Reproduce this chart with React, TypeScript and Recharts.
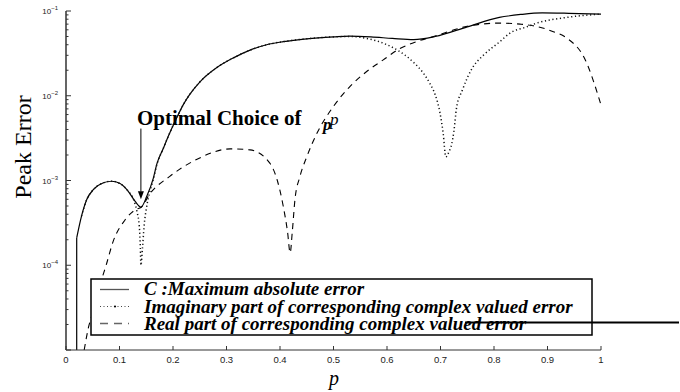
import React from 'react';
import { LineChart, Line, XAxis, YAxis, ReferenceLine, ReferenceDot } from 'recharts';

// [p, error] samples for each curve
const maxAbsErr: [number, number][] = [
  [0.02, 1e-5], [0.02, 2.1e-4], [0.029, 3.8e-4], [0.039, 6.0e-4], [0.051, 7.8e-4],
  [0.07, 9.4e-4], [0.085, 9.8e-4], [0.101, 9.2e-4], [0.116, 7.5e-4], [0.129, 5.7e-4],
  [0.14, 4.85e-4], [0.151, 6.5e-4], [0.163, 1.05e-3], [0.17, 1.58e-3], [0.182, 2.4e-3],
  [0.191, 3.3e-3], [0.207, 5.5e-3], [0.219, 7.8e-3], [0.232, 1.05e-2], [0.25, 1.45e-2],
  [0.282, 2.15e-2], [0.313, 2.8e-2], [0.344, 3.45e-2], [0.375, 4.0e-2], [0.406, 4.35e-2],
  [0.45, 4.7e-2], [0.5, 4.95e-2], [0.53, 5.05e-2], [0.57, 4.95e-2], [0.61, 4.75e-2],
  [0.65, 4.6e-2], [0.69, 5.0e-2], [0.75, 6.5e-2], [0.81, 8.4e-2], [0.85, 9.1e-2],
  [0.89, 9.5e-2], [0.94, 9.4e-2], [1.0, 9.2e-2],
];

const imagErr: [number, number][] = [
  [0.029, 3.8e-4], [0.039, 6.0e-4], [0.051, 7.8e-4], [0.07, 9.4e-4], [0.085, 9.8e-4],
  [0.101, 9.2e-4], [0.116, 7.5e-4], [0.127, 5.8e-4], [0.133, 4.2e-4], [0.137, 2.9e-4],
  [0.139, 1.6e-4], [0.14, 1.0e-4], [0.143, 1.6e-4], [0.146, 2.9e-4], [0.151, 5.0e-4],
  [0.157, 7.5e-4], [0.163, 1.02e-3], [0.17, 1.55e-3], [0.182, 2.4e-3], [0.191, 3.3e-3],
  [0.207, 5.5e-3], [0.219, 7.8e-3], [0.232, 1.05e-2], [0.25, 1.45e-2], [0.282, 2.15e-2],
  [0.313, 2.8e-2], [0.344, 3.45e-2], [0.375, 4.0e-2], [0.406, 4.35e-2], [0.45, 4.7e-2],
  [0.5, 4.95e-2], [0.53, 5.0e-2], [0.562, 4.75e-2], [0.6, 4.0e-2], [0.618, 3.5e-2],
  [0.649, 2.5e-2], [0.668, 1.85e-2], [0.68, 1.4e-2], [0.69, 1.03e-2], [0.699, 6.3e-3],
  [0.705, 3.6e-3], [0.71, 1.9e-3], [0.716, 2.2e-3], [0.721, 2.7e-3], [0.725, 3.8e-3],
  [0.73, 7.2e-3], [0.741, 1.17e-2], [0.759, 2.1e-2], [0.78, 3.0e-2], [0.811, 4.35e-2],
  [0.83, 5.5e-2], [0.861, 6.5e-2], [0.88, 7.2e-2], [0.936, 8.4e-2], [1.0, 9.2e-2],
];

const realErr: [number, number][] = [
  [0.034, 1e-5], [0.042, 1.85e-5], [0.051, 2.9e-5], [0.064, 6.0e-5], [0.075, 1.0e-4],
  [0.088, 1.9e-4], [0.11, 3.4e-4], [0.132, 4.6e-4], [0.14, 4.8e-4], [0.157, 7.0e-4],
  [0.194, 1.12e-3], [0.244, 1.77e-3], [0.307, 2.36e-3], [0.344, 2.3e-3], [0.381, 1.6e-3],
  [0.395, 1.0e-3], [0.406, 5.0e-4], [0.414, 2.5e-4], [0.419, 1.4e-4], [0.423, 2.5e-4],
  [0.428, 6.0e-4], [0.437, 1.1e-3], [0.45, 1.9e-3], [0.469, 3.6e-3], [0.5, 7.5e-3],
  [0.531, 1.29e-2], [0.562, 1.93e-2], [0.593, 2.65e-2], [0.624, 3.6e-2], [0.655, 4.35e-2],
  [0.687, 5.0e-2], [0.75, 6.6e-2], [0.811, 7.2e-2], [0.849, 7.0e-2], [0.873, 6.7e-2],
  [0.911, 5.7e-2], [0.936, 4.8e-2], [0.97, 2.7e-2], [1.0, 7.8e-3],
];

const xTicks = [0, 0.1, 0.2, 0.3, 0.4, 0.5, 0.6, 0.7, 0.8, 0.9, 1];
const decades = [1e-5, 1e-4, 1e-3, 1e-2, 1e-1];
const decadeLabels = ['', '\u22124', '\u22123', '\u22122', '\u22121'];
const minorSteps = [2, 3, 4, 5, 6, 7, 8, 9];

const legendItems = [
  'C :Maximum absolute error',
  'Imaginary part of corresponding complex valued error',
  'Real part of corresponding complex valued error',
];

// optimal p (minimum of the max error curve)
const pOpt = 0.14;

const yTicks = [
  ...decades,
  ...decades.slice(0, -1).flatMap((d) => minorSteps.map((m) => d * m)),
].sort((a, b) => a - b);

const toRows = (arr: [number, number][]) => arr.map(([p, v]) => ({ p, v }));

const SERIF = '"Liberation Serif", "Times New Roman", serif';
const SANS = '"Liberation Sans", Arial, sans-serif';

const YTick = (props: any) => {
  const { x, y, payload } = props;
  const i = decades.indexOf(payload.value);
  const major = i >= 0;
  return (
    <g>
      <line x1={x} x2={x + (major ? 5 : 2.5)} y1={y} y2={y} stroke="#333" strokeWidth={1} />
      {major && decadeLabels[i] && (
        <text x={x - 8} y={y + 3} textAnchor="end" fontFamily={SANS} fontSize={8} fill="#222">
          10
          <tspan dy={-4} fontSize={6}>
            {decadeLabels[i]}
          </tspan>
        </text>
      )}
    </g>
  );
};

const XTick = (props: any) => {
  const { x, y, payload } = props;
  return (
    <g>
      <line x1={x} x2={x} y1={y} y2={y - 4} stroke="#333" strokeWidth={1} />
      <text x={x} y={y + 12.5} textAnchor="middle" fontFamily={SANS} fontSize={9.5} fill="#222">
        {payload.value}
      </text>
    </g>
  );
};

const ArrowHead = (props: any) => {
  const { cx, cy } = props;
  return <path d={`M${cx - 3},${cy - 8}L${cx + 3},${cy - 8}L${cx},${cy}Z`} fill="#000" />;
};

const LegendSample = ({ kind, y }: { kind: number; y: number }) => {
  if (kind === 0) return <line x1={100} x2={129} y1={y} y2={y} stroke="#555" strokeWidth={1.3} />;
  if (kind === 1)
    return (
      <g>
        <line x1={100} x2={129} y1={y} y2={y} stroke="#444" strokeWidth={1} strokeDasharray="1 2.5" />
        <circle cx={115} cy={y} r={1.1} fill="#000" />
      </g>
    );
  return <line x1={100} x2={129} y1={y} y2={y} stroke="#666" strokeWidth={1.3} strokeDasharray="8 6" />;
};

export default function App() {
  return (
    <div style={{ position: 'absolute', left: 0, top: 0, width: 680, height: 392, background: '#fff' }}>
      <LineChart width={680} height={392} margin={{ top: 11, right: 79, bottom: 0, left: 0 }}>
        <XAxis
          type="number"
          dataKey="p"
          domain={[0, 1]}
          ticks={xTicks}
          interval={0}
          tickSize={0}
          tickMargin={0}
          tickLine={false}
          height={42}
          axisLine={{ stroke: '#333', strokeWidth: 1 }}
          tick={<XTick />}
        />
        <YAxis
          type="number"
          scale="log"
          domain={[1e-5, 1e-1]}
          allowDataOverflow
          ticks={yTicks}
          interval={0}
          tickSize={0}
          tickMargin={0}
          tickLine={false}
          width={66}
          axisLine={{ stroke: '#555', strokeWidth: 1.8 }}
          tick={<YTick />}
        />
        <Line
          data={toRows(realErr)}
          dataKey="v"
          type="monotone"
          stroke="#000"
          strokeWidth={1.1}
          strokeDasharray="6 5"
          dot={false}
          activeDot={false}
          isAnimationActive={false}
        />
        <Line
          data={toRows(maxAbsErr.slice(0, 2))}
          dataKey="v"
          type="linear"
          stroke="#000"
          strokeWidth={1.2}
          dot={false}
          activeDot={false}
          isAnimationActive={false}
        />
        <Line
          data={toRows(maxAbsErr.slice(1))}
          dataKey="v"
          type="monotone"
          stroke="#000"
          strokeWidth={1.2}
          dot={false}
          activeDot={false}
          isAnimationActive={false}
        />
        <Line
          data={toRows(imagErr)}
          dataKey="v"
          type="monotone"
          stroke="#111"
          strokeWidth={1.5}
          strokeDasharray="1.2 2.6"
          dot={false}
          activeDot={false}
          isAnimationActive={false}
        />
        <ReferenceLine
          segment={[
            { x: pOpt, y: 4.1e-3 },
            { x: pOpt, y: 7.4e-4 },
          ]}
          stroke="#000"
          strokeWidth={1}
        />
        <ReferenceDot x={pOpt} y={6.0e-4} shape={<ArrowHead />} />
      </LineChart>

      <svg
        width={680}
        height={392}
        style={{ position: 'absolute', left: 0, top: 0, pointerEvents: 'none' }}
      >
        <text
          transform="translate(31,147) rotate(-90)"
          textAnchor="middle"
          fontFamily={SERIF}
          fontSize={24}
          fill="#000"
        >
          Peak Error
        </text>
        <text x={334} y={385} textAnchor="middle" fontFamily={SERIF} fontStyle="italic" fontSize={20} fill="#000">
          p
        </text>
        <text x={137} y={125} fontFamily={SERIF} fontWeight="bold" fontSize={21} fill="#000">
          Optimal Choice of
        </text>
        <text x={323} y={130} fontFamily={SERIF} fontStyle="italic" fontWeight="bold" fontSize={17} fill="#000">
          p
        </text>
        <text x={330} y={125} fontFamily={SERIF} fontStyle="italic" fontSize={17} fill="#000">
          p
        </text>

        <rect x={91} y={279} width={501} height={56} fill="#fff" stroke="#000" strokeWidth={1.5} />
        {legendItems.map((label, i) => (
          <g key={label}>
            <LegendSample kind={i} y={289.5 + i * 17} />
            <text
              x={144}
              y={295 + i * 17.5}
              fontFamily={SERIF}
              fontStyle="italic"
              fontWeight="bold"
              fontSize={19}
              fill="#000"
            >
              {label}
            </text>
          </g>
        ))}
        <line x1={465} x2={679} y1={322.5} y2={322.5} stroke="#000" strokeWidth={2} />
      </svg>
    </div>
  );
}
